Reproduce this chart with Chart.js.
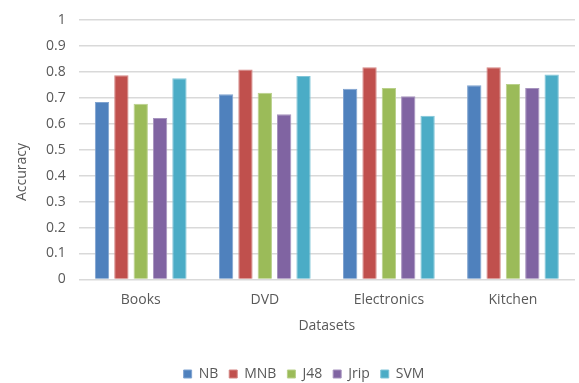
<!DOCTYPE html>
<html>
<head>
<meta charset="utf-8">
<script src="https://cdn.jsdelivr.net/npm/chart.js@4"></script>
<style>
  html, body { margin: 0; padding: 0; background: #fff; }
  #myChart { display: block; }
</style>
</head>
<body>
<canvas id="myChart" width="579" height="383"></canvas>
<script>
// Datos del grafico
let categorias = ["Books", "DVD", "Electronics", "Kitchen"];
let nb   = [0.684, 0.714, 0.735, 0.748];
let mnb  = [0.787, 0.809, 0.818, 0.818];
let j48  = [0.677, 0.720, 0.738, 0.753];
let jrip = [0.622, 0.637, 0.706, 0.738];
let svm  = [0.775, 0.784, 0.631, 0.790];
let yTicks = [0, 0.1, 0.2, 0.3, 0.4, 0.5, 0.6, 0.7, 0.8, 0.9, 1];

const gris = "#595959";
const fuente = "'Open Sans', sans-serif";

function serie(label, data, color, borde) {
  return {
    label, data,
    backgroundColor: color,
    borderColor: borde,
    borderWidth: 1,
    barPercentage: 0.74,
    categoryPercentage: 0.78
  };
}

// titulo del eje Y dibujado a mano (va un poco mas abajo del centro)
const tituloY = {
  id: "tituloY",
  afterDraw(chart) {
    const ctx = chart.ctx;
    ctx.save();
    ctx.translate(22, 172);
    ctx.rotate(-Math.PI / 2);
    ctx.fillStyle = gris;
    ctx.font = "14px " + fuente;
    ctx.textAlign = "center";
    ctx.textBaseline = "middle";
    ctx.fillText("Accuracy", 0, 0);
    ctx.restore();
  }
};

// renderGrafica() : dibuja la grafica de barras agrupadas
function renderGrafica() {
  const datasets = [
    serie("NB", nb, "#4F81BD", "#7fa3d0"),
    serie("MNB", mnb, "#C0504D", "#d48583"),
    serie("J48", j48, "#9BBB59", "#b9d08a"),
    serie("Jrip", jrip, "#8064A2", "#a693be"),
    serie("SVM", svm, "#4BACC6", "#81c5d8")
  ];
  const config = {
    type: "bar",
    data: { labels: categorias, datasets },
    options: {
      responsive: false,
      animation: false,
      layout: { padding: { top: 0, right: 4, left: 33, bottom: -8 } },
      plugins: {
        tooltip: { enabled: false },
        legend: {
          position: "bottom",
          labels: {
            color: gris,
            font: { family: fuente, size: 14 },
            boxWidth: 8, boxHeight: 8,
            padding: 11
          }
        }
      },
      scales: {
        x: {
          grid: { display: false, drawTicks: false },
          border: { display: false },
          ticks: { color: gris, font: { family: fuente, size: 14 }, padding: 12 },
          title: { display: true, text: "Datasets", color: gris,
                   font: { family: fuente, size: 14 }, padding: { top: -3, bottom: 22 } }
        },
        y: {
          min: 0, max: 1,
          afterBuildTicks: (axis) => { axis.ticks = yTicks.map(v => ({ value: v })); },
          grid: { color: "#d9d9d9", lineWidth: 1.5, drawTicks: false },
          border: { display: false },
          ticks: { color: gris, font: { family: fuente, size: 14, lineHeight: 1 }, padding: 13,
                   callback: (v) => String(v) }
        }
      }
    },
    plugins: [tituloY]
  };
  new Chart(document.getElementById("myChart"), config);
}
renderGrafica();
</script>
</body>
</html>
